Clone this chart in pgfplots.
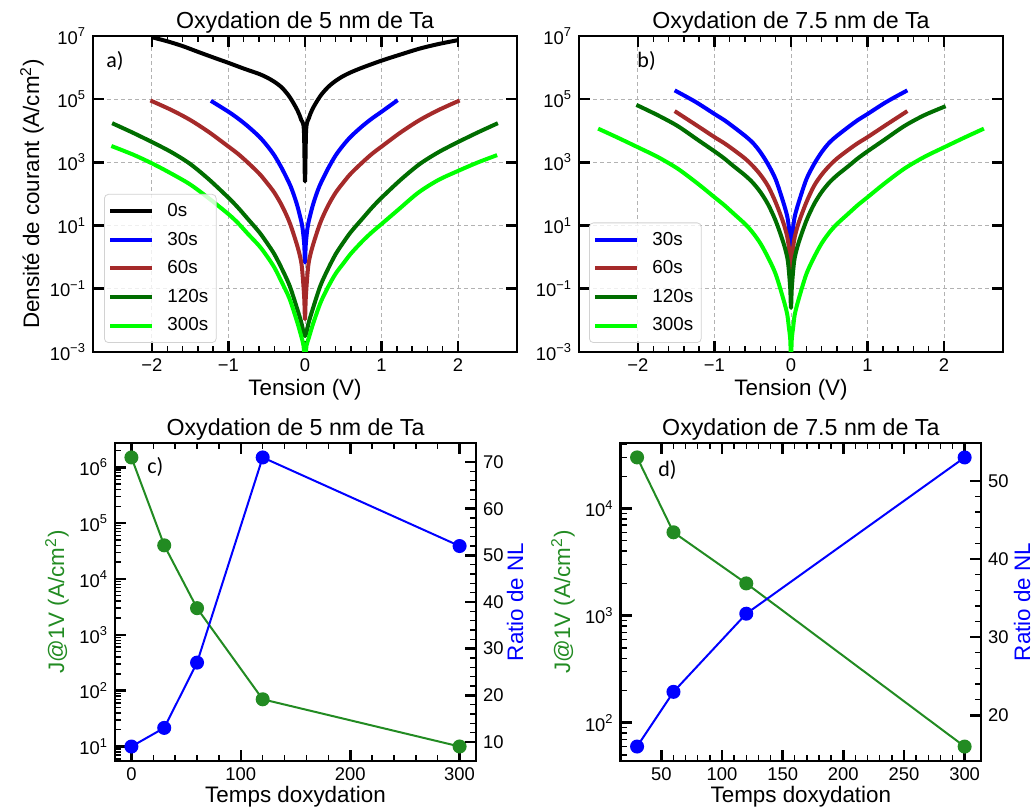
\documentclass[border=0pt]{standalone}
\usepackage{fontspec}
\setmainfont{Liberation Sans}
\newfontfamily\calibri{Carlito}
\usepackage{pgfplots}
\pgfplotsset{compat=1.18}
\definecolor{c30}{RGB}{0,0,255}
\definecolor{c60}{RGB}{165,42,42}
\definecolor{c120}{RGB}{0,110,0}
\definecolor{c300}{RGB}{0,255,0}
\definecolor{cgreen}{RGB}{34,139,34}
\pgfplotsset{
  legend image code/.code={\draw[#1, line width=2pt] (0pt,0pt) -- (21pt,0pt); \path (25.5pt,0pt);},
  scale only axis,
  axis line style={line width=1.3pt},
  tick align=inside,
  major tick length=5.5pt,
  minor tick length=3pt,
  tick style={black},
  major tick style={line width=1.3pt},
  minor tick style={line width=0.7pt},
  tick label style={font=\fontsize{9.2}{11}\selectfont},
  label style={font=\fontsize{11.2}{13}\selectfont},
  title style={font=\fontsize{11.6}{14}\selectfont, at={(0.5,1)}, anchor=base, yshift=-2.1pt},
  legend style={anchor=south west, draw=gray!35, rounded corners=2pt, fill=white, fill opacity=0.8, text opacity=1,
      font=\fontsize{9.4}{11}\selectfont, inner xsep=2pt, inner ysep=2.5pt, row sep=2.2pt},
  legend cell align=left,
}
\tikzset{ivline/.style={line width=2pt, line join=round, smooth, tension=0.5}}
\begin{document}
\begin{tikzpicture}
\useasboundingbox (0,0) rectangle (516pt,406pt);
% ---------- a)
\begin{axis}[at={(46.5pt,230pt)}, anchor=south west, width=212pt, height=158pt,
  ymode=log, xmin=-2.77, xmax=2.77, ymin=1e-3, ymax=1e7,
  xtick={-2,-1,0,1,2}, xticklabels={−2,−1,0,1,2}, minor x tick num=4,
  ytick={1e-3,1e-1,1e1,1e3,1e5,1e7},
  yticklabels={10\textsuperscript{−3},10\textsuperscript{−1},10\textsuperscript{1},10\textsuperscript{3},10\textsuperscript{5},10\textsuperscript{7}},
  yminorticks=false,
  grid=major,
  major grid style={gray!60, line width=0.5pt, dash pattern=on 2pt off 1.5pt},
  xlabel={Tension (V)},
  xlabel style={at={(0.5,0)}, anchor=base, yshift=-22pt},
  title={Oxydation de 5 nm de Ta},
  ylabel={Densité de courant (A/cm\textsuperscript{2})},
  ylabel style={at={(-0.1439,0.5)}, anchor=center},
  legend style={at={(0.026,0.0285)}}]
\addplot[ivline, black] coordinates {(-2.0,9.1e6)(-1.8,6.8e6)(-1.6,4.8e6)(-1.4,3.16e6)(-1.2,2.1e6)(-1.0,1.41e6)(-0.8,9.3e5)(-0.6,6.3e5)(-0.5,4.9e5)(-0.4,3.55e5)(-0.3,2.3e5)(-0.2,1.17e5)(-0.1,4.5e4)(-0.05,2.24e4)(-0.015,1.1e4)(0,250)(0.015,1.1e4)(0.05,2.5e4)(0.1,5.0e4)(0.2,1.26e5)(0.3,2.4e5)(0.4,3.8e5)(0.5,5.4e5)(0.6,7.1e5)(0.75,1.0e6)(1.0,1.66e6)(1.25,2.6e6)(1.5,4.0e6)(1.75,5.6e6)(2.0,7.4e6)};
\addlegendentry{0s}
\addplot[ivline, c30] coordinates {(-1.23,8.9e4)(-1.0,4.0e4)(-0.875,2.45e4)(-0.75,1.41e4)(-0.6,6.6e3)(-0.5,3.5e3)(-0.4,1.66e3)(-0.3,630)(-0.2,204)(-0.15,100)(-0.1,42)(-0.05,14.1)(-0.03,7.6)(-0.01,2.5)(0,0.68)(0.01,2.5)(0.03,7.6)(0.05,14.1)(0.1,42)(0.15,100)(0.2,204)(0.3,630)(0.4,1.66e3)(0.5,3.5e3)(0.6,6.6e3)(0.75,1.41e4)(0.875,2.45e4)(1.0,4.0e4)(1.21,9.3e4)};
\addlegendentry{30s}
\addplot[ivline, c60] coordinates {(-2.02,9.1e4)(-1.75,4.6e4)(-1.5,2.2e4)(-1.25,8.9e3)(-1.0,3.16e3)(-0.875,1.86e3)(-0.75,1.0e3)(-0.6,447)(-0.5,229)(-0.4,110)(-0.3,42)(-0.2,12.3)(-0.1,2.24)(-0.05,0.71)(-0.03,0.25)(-0.01,0.05)(0,0.011)(0.01,0.05)(0.03,0.25)(0.05,0.71)(0.1,2.24)(0.2,12.3)(0.3,42)(0.4,110)(0.5,229)(0.6,447)(0.75,1.0e3)(0.875,1.86e3)(1.0,3.16e3)(1.25,8.9e3)(1.5,2.2e4)(1.75,4.6e4)(2.02,9.1e4)};
\addlegendentry{60s}
\addplot[ivline, c120] coordinates {(-2.52,1.74e4)(-2.25,8.7e3)(-2.0,4.4e3)(-1.75,2.14e3)(-1.5,891)(-1.25,282)(-1.0,76)(-0.875,37)(-0.75,16.6)(-0.6,6.3)(-0.5,2.9)(-0.4,1.24)(-0.3,0.42)(-0.2,0.123)(-0.1,0.0224)(-0.05,0.0089)(0,0.0032)(0.05,0.0089)(0.1,0.0224)(0.2,0.123)(0.3,0.42)(0.4,1.24)(0.5,2.9)(0.6,6.3)(0.75,16.6)(0.875,37)(1.0,76)(1.25,282)(1.5,891)(1.75,2.14e3)(2.0,4.4e3)(2.25,8.7e3)(2.52,1.74e4)};
\addlegendentry{120s}
\addplot[ivline, c300] coordinates {(-2.53,3.3e3)(-2.25,1.78e3)(-2.0,933)(-1.75,447)(-1.5,200)(-1.25,71)(-1.0,23)(-0.875,12)(-0.75,5.6)(-0.6,2.3)(-0.5,1.1)(-0.4,0.47)(-0.3,0.155)(-0.2,0.047)(-0.1,0.0085)(-0.05,0.0032)(-0.02,0.0016)(0,5e-4)(0.02,0.0016)(0.05,0.0028)(0.1,0.0071)(0.2,0.035)(0.3,0.112)(0.4,0.30)(0.5,0.63)(0.6,1.3)(0.75,3.2)(0.875,6.2)(1.0,11.2)(1.22,32)(1.48,110)(1.74,275)(2.0,537)(2.26,1.0e3)(2.51,1.7e3)};
\addlegendentry{300s}
\node[font=\calibri\fontsize{11}{13}\selectfont, anchor=base west, inner sep=0pt] at (rel axis cs:0.0307,0.899) {a)};
\end{axis}
% ---------- b)
\begin{axis}[at={(289.5pt,230pt)}, anchor=south west, width=212pt, height=158pt,
  ymode=log, xmin=-2.77, xmax=2.77, ymin=1e-3, ymax=1e7,
  xtick={-2,-1,0,1,2}, xticklabels={−2,−1,0,1,2}, minor x tick num=4,
  ytick={1e-3,1e-1,1e1,1e3,1e5,1e7},
  yticklabels={10\textsuperscript{−3},10\textsuperscript{−1},10\textsuperscript{1},10\textsuperscript{3},10\textsuperscript{5},10\textsuperscript{7}},
  yminorticks=false,
  grid=major,
  major grid style={gray!60, line width=0.5pt, dash pattern=on 2pt off 1.5pt},
  xlabel={Tension (V)},
  xlabel style={at={(0.5,0)}, anchor=base, yshift=-22pt},
  title={Oxydation de 7.5 nm de Ta},
  legend style={at={(0.0236,0.0285)}}]
\addplot[ivline, c30] coordinates {(-1.52,1.9e5)(-1.25,8.3e4)(-1.0,3.4e4)(-0.875,2.2e4)(-0.75,1.32e4)(-0.6,6.9e3)(-0.5,4.2e3)(-0.4,2.1e3)(-0.3,870)(-0.2,288)(-0.1,54)(-0.05,20)(-0.03,9.8)(-0.01,3.2)(0,1.4)(0.01,3.2)(0.03,9.8)(0.05,20)(0.1,54)(0.2,288)(0.3,870)(0.4,2.1e3)(0.5,4.2e3)(0.6,6.9e3)(0.75,1.32e4)(0.875,2.2e4)(1.0,3.4e4)(1.25,8.3e4)(1.52,1.9e5)};
\addlegendentry{30s}
\addplot[ivline, c60] coordinates {(-1.52,4.2e4)(-1.25,1.58e4)(-1.0,6.3e3)(-0.875,4.1e3)(-0.75,2.5e3)(-0.6,1.32e3)(-0.5,776)(-0.4,407)(-0.3,178)(-0.2,54)(-0.1,12.3)(-0.05,4.5)(-0.03,2.24)(-0.01,0.79)(0,0.42)(0.01,0.79)(0.03,2.24)(0.05,4.5)(0.1,12.3)(0.2,54)(0.3,178)(0.4,407)(0.5,776)(0.6,1.32e3)(0.75,2.5e3)(0.875,4.1e3)(1.0,6.3e3)(1.25,1.58e4)(1.52,4.2e4)};
\addlegendentry{60s}
\addplot[ivline, c120] coordinates {(-2.02,6.6e4)(-1.74,3.1e4)(-1.48,1.41e4)(-1.22,5.2e3)(-1.0,2.24e3)(-0.875,1.35e3)(-0.75,760)(-0.6,389)(-0.5,229)(-0.4,115)(-0.3,47)(-0.2,14.1)(-0.1,2.9)(-0.05,1.0)(-0.03,0.42)(-0.01,0.1)(0,0.025)(0.01,0.1)(0.03,0.42)(0.05,1.0)(0.1,2.9)(0.2,14.1)(0.3,47)(0.4,115)(0.5,229)(0.6,389)(0.75,760)(0.875,1.35e3)(1.0,2.24e3)(1.22,5.2e3)(1.48,1.41e4)(1.74,3.1e4)(2.02,6.0e4)};
\addlegendentry{120s}
\addplot[ivline, c300] coordinates {(-2.52,1.17e4)(-2.26,6.0e3)(-2.0,3.0e3)(-1.74,1.48e3)(-1.48,631)(-1.22,214)(-1.0,79)(-0.875,45)(-0.75,24)(-0.6,11.2)(-0.5,6.0)(-0.4,2.73)(-0.3,0.98)(-0.2,0.29)(-0.1,0.047)(-0.05,0.0158)(-0.03,0.0066)(-0.01,0.0025)(0,5e-4)(0.01,0.0025)(0.03,0.0066)(0.05,0.0158)(0.1,0.047)(0.2,0.29)(0.3,0.98)(0.4,2.73)(0.5,6.0)(0.6,11.2)(0.75,24)(0.875,45)(1.0,79)(1.22,214)(1.48,631)(1.74,1.48e3)(2.0,3.0e3)(2.26,6.0e3)(2.52,1.17e4)};
\addlegendentry{300s}
\node[font=\calibri\fontsize{11}{13}\selectfont, anchor=base west, inner sep=0pt] at (rel axis cs:0.137,0.899) {b)};
\end{axis}
% ---------- c)
\begin{axis}[at={(57.5pt,25.5pt)}, anchor=south west, width=180.5pt, height=159pt,
  ymode=log, xmin=-15, xmax=315, ymin=5.5, ymax=2.72e6,
  xtick={0,100,200,300}, xticklabels={0,100,200,300}, minor x tick num=4, xtick pos=both, ytick pos=left,
  ytick={10,100,1000,1e4,1e5,1e6},
  yticklabels={10\textsuperscript{1},10\textsuperscript{2},10\textsuperscript{3},10\textsuperscript{4},10\textsuperscript{5},10\textsuperscript{6}},
  minor ytick={6,7,8,9,20,30,40,50,60,70,80,90,200,300,400,500,600,700,800,900,2000,3000,4000,5000,6000,7000,8000,9000,2e4,3e4,4e4,5e4,6e4,7e4,8e4,9e4,2e5,3e5,4e5,5e5,6e5,7e5,8e5,9e5,2e6},
  title={Oxydation de 5 nm de Ta},
  xlabel={Temps doxydation}, xlabel style={at={(0.5,0)}, anchor=base, yshift=-21pt},
  ylabel={J@1V (A/cm\textsuperscript{2})}, ylabel style={at={(-0.1607,0.5)}, anchor=center, text=cgreen}]
\addplot[cgreen, line width=1pt, mark=*, mark size=3pt] coordinates {(0,1.5e6)(30,4e4)(60,3e3)(120,70)(300,10)};
\node[font=\calibri\fontsize{11}{13}\selectfont, anchor=base west, inner sep=0pt] at (rel axis cs:0.0886,0.9025) {c)};
\end{axis}
\begin{axis}[at={(57.5pt,25.5pt)}, anchor=south west, width=180.5pt, height=159pt,
  xmin=-15, xmax=315, ymin=5.9, ymax=74.1,
  axis x line=none, axis y line*=right, y axis line style={-},
  ytick={10,20,30,40,50,60,70}, yticklabels={10,20,30,40,50,60,70}, minor y tick num=4,
  ylabel={Ratio de NL}, ylabel style={at={(1.108,0.5)}, anchor=center, text=blue}]
\addplot[c30, line width=1pt, mark=*, mark size=3pt] coordinates {(0,9)(30,13)(60,27)(120,71)(300,52)};
\end{axis}
% ---------- d)
\begin{axis}[at={(310.35pt,25.5pt)}, anchor=south west, width=180.15pt, height=159pt,
  ymode=log, xmin=16.5, xmax=313.5, ymin=44, ymax=4.09e4,
  xtick={50,100,150,200,250,300}, xticklabels={50,100,150,200,250,300}, minor x tick num=4, xtick pos=both, ytick pos=left,
  ytick={100,1000,1e4},
  yticklabels={10\textsuperscript{2},10\textsuperscript{3},10\textsuperscript{4}},
  minor ytick={50,60,70,80,90,200,300,400,500,600,700,800,900,2000,3000,4000,5000,6000,7000,8000,9000,2e4,3e4,4e4},
  title={Oxydation de 7.5 nm de Ta},
  xlabel={Temps doxydation}, xlabel style={at={(0.5,0)}, anchor=base, yshift=-21pt},
  ylabel={J@1V (A/cm\textsuperscript{2})}, ylabel style={at={(-0.160,0.5)}, anchor=center, text=cgreen}]
\addplot[cgreen, line width=1pt, mark=*, mark size=3pt] coordinates {(30,3e4)(60,6e3)(120,2e3)(300,60)};
\node[font=\calibri\fontsize{11}{13}\selectfont, anchor=base west, inner sep=0pt] at (rel axis cs:0.1035,0.896) {d)};
\end{axis}
\begin{axis}[at={(310.35pt,25.5pt)}, anchor=south west, width=180.15pt, height=159pt,
  xmin=16.5, xmax=313.5, ymin=14.15, ymax=54.85,
  axis x line=none, axis y line*=right, y axis line style={-},
  ytick={20,30,40,50}, yticklabels={20,30,40,50}, minor y tick num=4,
  ylabel={Ratio de NL}, ylabel style={at={(1.114,0.5)}, anchor=center, text=blue}]
\addplot[c30, line width=1pt, mark=*, mark size=3pt] coordinates {(30,16)(60,23)(120,33)(300,53)};
\end{axis}
\end{tikzpicture}
\end{document}
